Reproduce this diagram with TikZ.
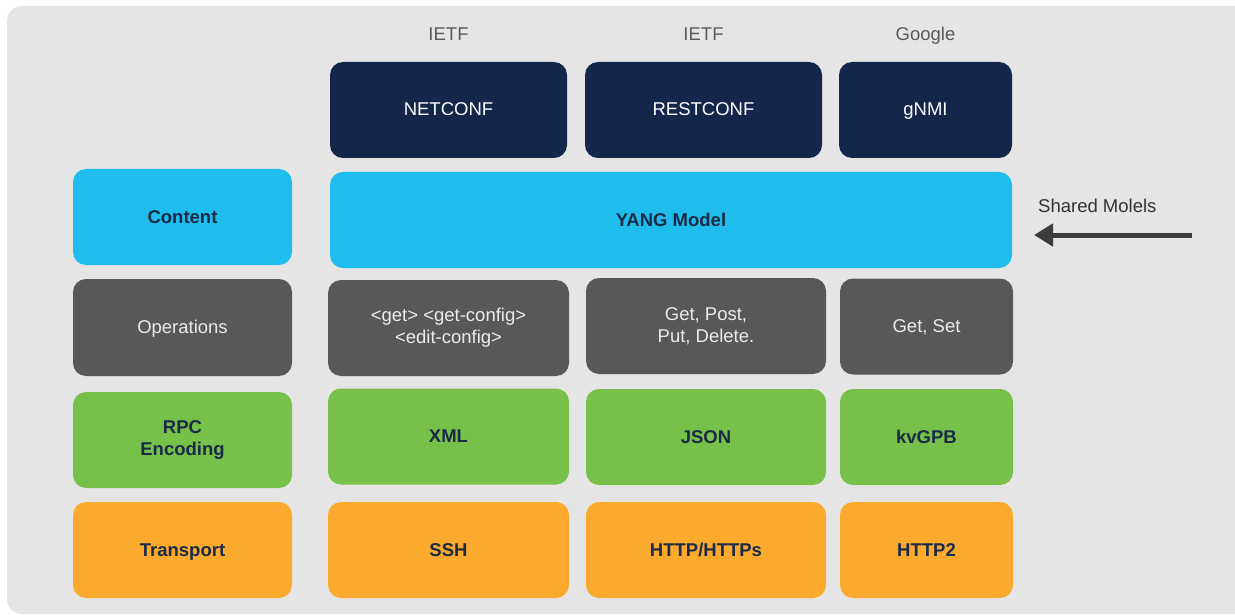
\documentclass[tikz,border=0pt]{standalone}
\usepackage{fontspec}
\setmainfont{Liberation Sans}
\usetikzlibrary{arrows.meta}
\definecolor{panelbg}{HTML}{E5E5E5}
\definecolor{navy}{HTML}{13274A}
\definecolor{cyanbox}{HTML}{1EBDEB}
\definecolor{graybox}{HTML}{58585A}
\definecolor{greenbox}{HTML}{77C04A}
\definecolor{orangebox}{HTML}{FBAA2D}
\definecolor{darktext}{HTML}{1B2A47}
\definecolor{headtext}{HTML}{5A5A5C}
\definecolor{arrowgray}{HTML}{3C3C3E}
\tikzset{
  box/.style={rounded corners=13pt, inner sep=0pt, align=center, font=\fontsize{18.5}{22}\selectfont},
  sl/.style={text height=15pt, text depth=3pt},
  navybox/.style={box, fill=navy, text=white},
  cyanb/.style={box, fill=cyanbox, text=darktext, font=\fontsize{18.5}{22}\selectfont\bfseries},
  grayb/.style={box, fill=graybox, text=white!92!black},
  greenb/.style={box, fill=greenbox, text=darktext, font=\fontsize{18.5}{22}\selectfont\bfseries},
  orangeb/.style={box, fill=orangebox, text=darktext, font=\fontsize{18.5}{22}\selectfont\bfseries},
  headlabel/.style={text=headtext, font=\fontsize{18.5}{22}\selectfont, inner sep=0pt, sl},
}
\begin{document}
\begin{tikzpicture}[x=1pt,y=-1pt]
\useasboundingbox (0,0) rectangle (1235,615);
\clip (0,0) rectangle (1235,615);
\fill[white] (0,0) rectangle (1235,615);
\fill[panelbg, rounded corners=15pt] (7,6) rectangle (1260,614);

% header labels
\node[headlabel] (h1) at (448.5,35) {IETF};
\node[headlabel] (h2) at (703.5,35) {IETF};
\node[headlabel] (h3) at (925.5,35) {Google};

% protocol row
\node[navybox, sl, minimum width=237pt, minimum height=96pt] (netconf) at (448.5,110) {NETCONF};
\node[navybox, sl, minimum width=237pt, minimum height=96pt] (restconf) at (703.5,110) {RESTCONF};
\node[navybox, sl, minimum width=173pt, minimum height=96pt] (gnmi) at (925.5,110) {gNMI};

% content row
\node[cyanb, sl, minimum width=219pt, minimum height=96pt] (content) at (182.5,217) {Content};
\node[cyanb, sl, minimum width=682pt, minimum height=96pt] (yang) at (671,220) {YANG Model};

% operations row
\node[grayb, sl, minimum width=219pt, minimum height=97pt] (ops) at (182.5,327.5) {Operations};
\node[grayb, minimum width=241pt, minimum height=96pt] (netops) at (448.5,328) {<get> <get-config>\\<edit-config>};
\node[grayb, minimum width=240pt, minimum height=96pt] (restops) at (706,326) {Get, Post,\\Put, Delete.};
\node[grayb, sl, minimum width=173pt, minimum height=96pt] (gnmiops) at (926.5,326.5) {Get, Set};

% encoding row
\node[greenb, minimum width=219pt, minimum height=96pt] (enc) at (182.5,440) {RPC\\Encoding};
\node[greenb, sl, minimum width=241pt, minimum height=96pt] (xml) at (448.5,436.5) {XML};
\node[greenb, sl, minimum width=240pt, minimum height=96pt] (json) at (706,437) {JSON};
\node[greenb, sl, minimum width=173pt, minimum height=96pt] (kvgpb) at (926.5,437) {kvGPB};

% transport row
\node[orangeb, sl, minimum width=219pt, minimum height=96pt] (transport) at (182.5,550) {Transport};
\node[orangeb, sl, minimum width=241pt, minimum height=96pt] (ssh) at (448.5,550) {SSH};
\node[orangeb, sl, minimum width=240pt, minimum height=96pt] (http) at (706,550) {HTTP/HTTPs};
\node[orangeb, sl, minimum width=173pt, minimum height=96pt] (http2) at (926.5,550) {HTTP2};

% shared models arrow
\node[headlabel, text=black!80, anchor=west] (shared) at (1038,206) {Shared Molels};
\coordinate (arrstart) at (1192,235);
\coordinate (arrend) at (1034,235);
\draw[arrowgray, line width=5pt, -{Triangle[length=19pt,width=22pt]}] (arrstart) -- (arrend);
\end{tikzpicture}
\end{document}
